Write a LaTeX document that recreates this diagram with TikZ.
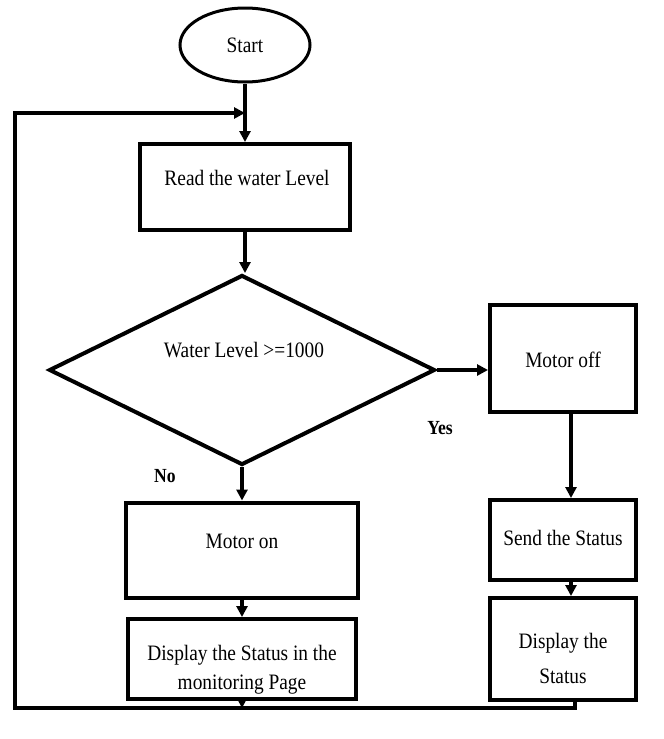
\documentclass[tikz,border=0pt]{standalone}
\usepackage{fontspec}
\setmainfont{Liberation Serif}[FakeStretch=0.88]
\usetikzlibrary{arrows.meta,shapes.geometric}
\begin{document}
\begin{tikzpicture}[x=1pt,y=-1pt,
  box/.style={draw,line width=4pt,inner sep=0pt},
  lbl/.style={font=\fontsize{22}{29}\selectfont,align=center,inner sep=0pt},
  yn/.style={font=\fontsize{20}{24}\selectfont\bfseries,inner sep=0pt},
  conn/.style={line width=4pt,line join=miter},
  arr/.style={conn,-{Triangle[length=11pt,width=11pt]}}]
\useasboundingbox (0,0) rectangle (664,739);

\node[draw,ellipse,line width=3pt,minimum width=130pt,minimum height=74pt,inner sep=0pt,font=\fontsize{22}{29}\selectfont] (start) at (245,45) {Start};

\node[box,minimum width=210pt,minimum height=86pt] (read) at (245,187) {};
\node[lbl] (readt) at (247,178) {Read the water Level};

\node[draw,diamond,line width=4pt,minimum width=386pt,minimum height=190pt,inner sep=0pt] (dec) at (242,370) {};
\node[lbl] (dect) at (244,350) {Water Level >=1000};

\node[box,minimum width=146pt,minimum height=107pt] (moff) at (563,358) {};
\node[lbl] (mofft) at (563,360) {Motor off};

\node[box,minimum width=146pt,minimum height=80pt] (send) at (563,540) {};
\node[lbl] (sendt) at (563,538) {Send the Status};

\node[box,minimum width=146pt,minimum height=102pt] (disp2) at (563,649) {};
\node[lbl,font=\fontsize{22}{35}\selectfont] (disp2t) at (563,658) {Display the\\Status};

\node[box,minimum width=232pt,minimum height=95pt] (mon) at (242,550) {};
\node[lbl] (mont) at (242,541) {Motor on};

\node[box,minimum width=228pt,minimum height=80pt] (disp1) at (242,659) {};
\node[lbl] (disp1t) at (242,670) {Display the Status in the\\monitoring Page};

\node[yn] (yes) at (440,428) {Yes};
\node[yn] (no) at (165,476) {No};

\coordinate (bl) at (15,708);
\coordinate (tl) at (15,113);

\draw[arr] (start.south) -- (start.south |- read.north);
\draw[arr] ([xshift=12pt]disp2.south) |- (bl) -- (tl) -- (tl -| start.south);
\draw[arr] (read.south) -- (read.south |- dec.north);
\draw[arr] (dec.east) -- (dec.east -| moff.west);
\draw[arr] (dec.south) -- (dec.south |- mon.north);
\draw[arr] (mon.south) -- (mon.south |- disp1.north);
\draw[arr] (disp1.south) -- (disp1.south |- bl);
\draw[arr] ([xshift=8pt]moff.south) -- ([xshift=8pt]moff.south |- send.north);
\draw[arr] ([xshift=8pt]send.south) -- ([xshift=8pt]send.south |- disp2.north);
\end{tikzpicture}
\end{document}
